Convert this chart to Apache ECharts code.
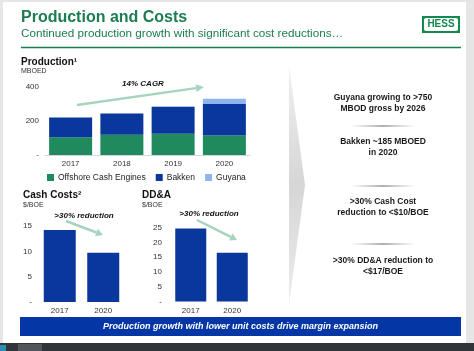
<!DOCTYPE html>
<html><head><meta charset="utf-8">
<script src="https://cdn.jsdelivr.net/npm/echarts@6/dist/echarts.min.js"></script>
<style>html,body{margin:0;padding:0;background:#fff}#c{width:474px;height:351px}</style>
</head><body><div id="c"></div>
<script>
const years = ['2017', '2018', '2019', '2020'];
const offshore = [104, 118, 125, 114];
const bakken = [115, 125, 156, 184];
const guyana = [0, 0, 5, 31];
const costYears = ['2017', '2020'];
const cashCosts = [14.2, 9.7];
const ddaValues = [24.7, 16.5];
const bullets = [
  ['Guyana growing to >750', 'MBOD gross by 2026'],
  ['Bakken ~185 MBOED', 'in 2020'],
  ['>30% Cash Cost', 'reduction to <$10/BOE'],
  ['>30% DD&A reduction to', '<$17/BOE']
];

const FONT = 'Liberation Sans, Arial, sans-serif';
const GREEN = '#1b7d50';
const C_OFF = '#1f8a5e';
const C_BAK = '#0a379b';
const C_GUY = '#8fb5ee';
const ARROW = '#a6d4bd';

function arrow(x1, y1, x2, y2, w, hl, hw) {
  const dx = x2 - x1, dy = y2 - y1, L = Math.sqrt(dx*dx + dy*dy);
  const ux = dx / L, uy = dy / L, px = -uy, py = ux;
  const bx = x2 - ux*hl, by = y2 - uy*hl;
  return [
    {type: 'line', shape: {x1: x1, y1: y1, x2: bx, y2: by}, style: {stroke: ARROW, lineWidth: w}, z: 10},
    {type: 'polygon', shape: {points: [[x2, y2], [bx + px*hw, by + py*hw], [bx - px*hw, by - py*hw]]}, style: {fill: ARROW}, z: 10}
  ];
}

const g = [];
// page frame
g.push({type: 'rect', shape: {x: 0, y: 0, width: 474, height: 351}, style: {fill: '#e6e6e6'}, z: -10});
g.push({type: 'rect', shape: {x: 3, y: 2, width: 463, height: 341}, style: {fill: '#ffffff'}, z: -9});
g.push({type: 'rect', shape: {x: 0, y: 343, width: 474, height: 8}, style: {fill: '#30353a'}, z: -8});
g.push({type: 'rect', shape: {x: 0, y: 345, width: 6, height: 6}, style: {fill: '#2a8fb0'}, z: -7});
g.push({type: 'rect', shape: {x: 18, y: 344, width: 24, height: 7}, style: {fill: '#50565c'}, z: -7});
// header
g.push({type: 'text', left: 21, top: 10, style: {text: 'Production and Costs', font: 'bold 16px ' + FONT, fill: GREEN}});
g.push({type: 'text', left: 21, top: 28, style: {text: 'Continued production growth with significant cost reductions…', font: '11.7px ' + FONT, fill: GREEN}});
g.push({type: 'line', shape: {x1: 21, y1: 47.5, x2: 461, y2: 47.5}, style: {stroke: GREEN, lineWidth: 1.5}});
g.push({type: 'rect', shape: {x: 422, y: 16, width: 38, height: 17}, style: {fill: '#13884f'}});
g.push({type: 'rect', shape: {x: 424, y: 18, width: 34, height: 13, r: 2}, style: {fill: '#ffffff'}});
g.push({type: 'text', x: 441, y: 24.5, style: {text: 'HESS', font: 'bold 10px ' + FONT, fill: '#13884f', textAlign: 'center', textVerticalAlign: 'middle'}});
// panel titles
g.push({type: 'text', left: 21, top: 57, style: {text: 'Production¹', font: 'bold 10px ' + FONT, fill: '#111'}});
g.push({type: 'text', left: 21, top: 68, style: {text: 'MBOED', font: '7px ' + FONT, fill: '#333'}});
g.push({type: 'text', left: 23, top: 190, style: {text: 'Cash Costs²', font: 'bold 10px ' + FONT, fill: '#111'}});
g.push({type: 'text', left: 23, top: 202, style: {text: '$/BOE', font: '7px ' + FONT, fill: '#333'}});
g.push({type: 'text', left: 142, top: 190, style: {text: 'DD&A', font: 'bold 10px ' + FONT, fill: '#111'}});
g.push({type: 'text', left: 142, top: 202, style: {text: '$/BOE', font: '7px ' + FONT, fill: '#333'}});
// annotations
g.push({type: 'text', x: 143, y: 84, style: {text: '14% CAGR', font: 'italic bold 8px ' + FONT, fill: '#111', textAlign: 'center', textVerticalAlign: 'middle'}, z: 10});
arrow(77, 105, 204, 87, 2.5, 8, 4).forEach(e => g.push(e));
g.push({type: 'text', x: 84, y: 216, style: {text: '>30% reduction', font: 'italic bold 8px ' + FONT, fill: '#111', textAlign: 'center', textVerticalAlign: 'middle'}, z: 10});
arrow(66, 221, 103, 235, 2.5, 7, 4).forEach(e => g.push(e));
g.push({type: 'text', x: 209, y: 214, style: {text: '>30% reduction', font: 'italic bold 8px ' + FONT, fill: '#111', textAlign: 'center', textVerticalAlign: 'middle'}, z: 10});
arrow(197, 220, 237, 240, 2.5, 7, 4).forEach(e => g.push(e));
// chevron
g.push({type: 'polygon', shape: {points: [[289, 66], [305, 185], [289, 304]]},
  style: {fill: {type: 'linear', x: 0, y: 0, x2: 0, y2: 1, colorStops: [
    {offset: 0, color: '#f0f0f0'}, {offset: 0.5, color: '#d6d6d6'}, {offset: 1, color: '#ececec'}]}}});
// bullets
const bulletY = [103, 147, 207, 266];
bullets.forEach((b, i) => {
  g.push({type: 'text', x: 383, y: bulletY[i], style: {text: b[0] + '\n' + b[1], font: 'bold 8.5px ' + FONT, fill: '#1a1a1a', textAlign: 'center', textVerticalAlign: 'middle', lineHeight: 10.5}});
});
[126, 186, 244].forEach(y => {
  g.push({type: 'line', shape: {x1: 352, y1: y, x2: 414, y2: y}, style: {lineWidth: 1.2, stroke: {type: 'linear', x: 0, y: 0, x2: 1, y2: 0, colorStops: [
    {offset: 0, color: 'rgba(120,120,120,0)'}, {offset: 0.5, color: 'rgba(90,90,90,1)'}, {offset: 1, color: 'rgba(120,120,120,0)'}]}}});
});
// banner
g.push({type: 'rect', shape: {x: 20, y: 317, width: 441, height: 19}, style: {fill: '#0536a5'}});
g.push({type: 'text', x: 240.5, y: 326.5, style: {text: 'Production growth with lower unit costs drive margin expansion', font: 'italic bold 9px ' + FONT, fill: '#fff', textAlign: 'center', textVerticalAlign: 'middle'}});

const axisLbl = {fontSize: 8, color: '#333', fontFamily: FONT};
const zeroDash = v => v === 0 ? '-' : String(v);

const chart = echarts.init(document.getElementById('c'), null, {renderer: 'canvas'});
chart.setOption({
  animation: false,
  textStyle: {fontFamily: FONT},
  grid: [
    {left: 45, top: 86.7, width: 205, height: 68.3},
    {left: 38, top: 226, width: 87, height: 76},
    {left: 170, top: 227.7, width: 83, height: 73.8}
  ],
  xAxis: [
    {gridIndex: 0, type: 'category', data: years, axisTick: {show: false}, axisLine: {lineStyle: {color: '#d6d6d6'}}, axisLabel: Object.assign({margin: 5}, axisLbl)},
    {gridIndex: 1, type: 'category', data: costYears, axisTick: {show: false}, axisLine: {show: false}, axisLabel: Object.assign({margin: 5}, axisLbl)},
    {gridIndex: 2, type: 'category', data: costYears, axisTick: {show: false}, axisLine: {show: false}, axisLabel: Object.assign({margin: 5}, axisLbl)}
  ],
  yAxis: [
    {gridIndex: 0, type: 'value', min: 0, max: 400, interval: 200, splitLine: {show: false}, axisLine: {show: false}, axisTick: {show: false}, axisLabel: Object.assign({margin: 6, formatter: zeroDash}, axisLbl)},
    {gridIndex: 1, type: 'value', min: 0, max: 15, interval: 5, splitLine: {show: false}, axisLine: {show: false}, axisTick: {show: false}, axisLabel: Object.assign({margin: 6, formatter: zeroDash}, axisLbl)},
    {gridIndex: 2, type: 'value', min: 0, max: 25, interval: 5, splitLine: {show: false}, axisLine: {show: false}, axisTick: {show: false}, axisLabel: Object.assign({margin: 8, formatter: zeroDash}, axisLbl)}
  ],
  legend: {
    data: ['Offshore Cash Engines', 'Bakken', 'Guyana'],
    left: 42, top: 168, itemWidth: 7, itemHeight: 7, itemGap: 10, icon: 'rect',
    textStyle: {fontSize: 8.5, color: '#222', fontFamily: FONT, padding: [0, 0, 0, -1]},
    selectedMode: false
  },
  series: [
    {name: 'Offshore Cash Engines', type: 'bar', stack: 'p', xAxisIndex: 0, yAxisIndex: 0, data: offshore, barWidth: 43, itemStyle: {color: C_OFF}},
    {name: 'Bakken', type: 'bar', stack: 'p', xAxisIndex: 0, yAxisIndex: 0, data: bakken, barWidth: 43, itemStyle: {color: C_BAK}},
    {name: 'Guyana', type: 'bar', stack: 'p', xAxisIndex: 0, yAxisIndex: 0, data: guyana, barWidth: 43, itemStyle: {color: C_GUY}},
    {name: 'Cash Costs', type: 'bar', xAxisIndex: 1, yAxisIndex: 1, data: cashCosts, barWidth: 32, itemStyle: {color: C_BAK}},
    {name: 'DD&A', type: 'bar', xAxisIndex: 2, yAxisIndex: 2, data: ddaValues, barWidth: 31, itemStyle: {color: C_BAK}}
  ],
  graphic: g
});
</script>
</body></html>
